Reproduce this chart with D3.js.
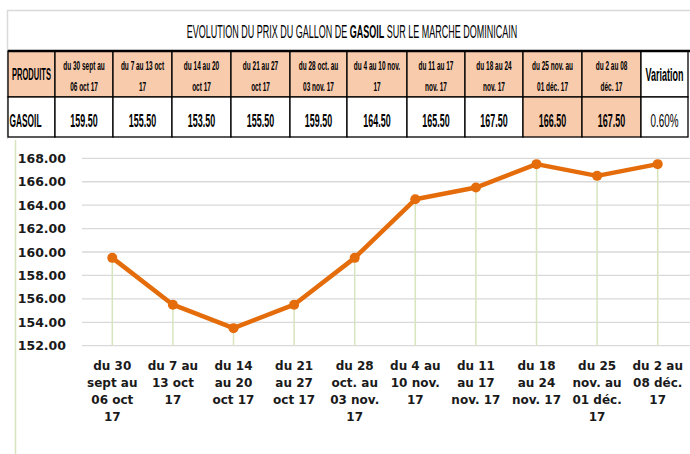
<!DOCTYPE html>
<html>
<head>
<meta charset="utf-8">
<script src="https://cdn.jsdelivr.net/npm/d3@7"></script>
<style>
	body { margin: 0; background: #fff; }
	svg { display: block; }
	.narrow { font-family: "Liberation Sans Narrow", "Arial Narrow", "Liberation Sans", sans-serif; }
	.chart-text { font-family: "DejaVu Sans", Verdana, sans-serif; font-weight: bold; }
</style>
</head>
<body>
<div id="chart"></div>
<script>
// table headers (two lines each) and the matching chart labels
const headerLabels = [
	["du 30 sept au", "06 oct 17"],
	["du 7 au 13 oct", "17"],
	["du 14 au 20", "oct 17"],
	["du 21 au 27", "oct 17"],
	["du 28 oct. au", "03 nov. 17"],
	["du 4 au 10 nov.", "17"],
	["du 11 au 17", "nov. 17"],
	["du 18 au 24", "nov. 17"],
	["du 25 nov. au", "01 déc. 17"],
	["du 2 au 08", "déc. 17"]
];
const axisLabels = [
	["du 30", "sept au", "06 oct", "17"],
	["du 7 au", "13 oct", "17"],
	["du 14", "au 20", "oct 17"],
	["du 21", "au 27", "oct 17"],
	["du 28", "oct. au", "03 nov.", "17"],
	["du 4 au", "10 nov.", "17"],
	["du 11", "au 17", "nov. 17"],
	["du 18", "au 24", "nov. 17"],
	["du 25", "nov. au", "01 déc.", "17"],
	["du 2 au", "08 déc.", "17"]
];
const prices = [159.50, 155.50, 153.50, 155.50, 159.50, 164.50, 165.50, 167.50, 166.50, 167.50];
const highlighted = [false, false, false, false, false, false, false, false, true, true];
const productName = "GASOIL";
const variation = "0.60%";
const yTicks = [152, 154, 156, 158, 160, 162, 164, 166, 168];

const width = 690, height = 454;
const peach = "#f8cbad", orange = "#e46c0a", paleGreen = "#d7e4bd";

const svg = d3.select("#chart").append("svg")
	.attr("width", width)
	.attr("height", height);

// outer frame of the table block
svg.append("path")
	.attr("d", "M7.5,139 V10.5 H690")
	.attr("fill", "none")
	.attr("stroke", "#d9d9d9")
	.attr("stroke-width", 1.5);

// title
const title = svg.append("text")
	.attr("class", "narrow")
	.attr("transform", "translate(352,38) scale(0.5,1)")
	.attr("text-anchor", "middle")
	.style("font-size", "18px")
	.attr("fill", "#000");
title.append("tspan").text("EVOLUTION DU PRIX DU GALLON DE ");
title.append("tspan").attr("font-weight", "bold").text("GASOIL");
title.append("tspan").text(" SUR LE MARCHE DOMINICAIN");

// table
const colEdges = [8, 55, 113, 172, 231, 290, 347, 407, 465, 523, 582, 641, 688];
const rowTop = 51, rowMid = 97, rowBot = 137;
const tbl = svg.append("g");

const cells = [];
colEdges.slice(0, -1).forEach((x0, i) => {
	const x1 = colEdges[i + 1];
	const isFirst = i === 0, isLast = i === colEdges.length - 2;
	const k = i - 1;
	cells.push({ x0, x1, y0: rowTop, y1: rowMid, fill: isLast ? "#fff" : peach,
		kind: isFirst ? "prod" : isLast ? "var" : "head", k });
	cells.push({ x0, x1, y0: rowMid, y1: rowBot,
		fill: (!isFirst && !isLast && highlighted[k]) ? peach : "#fff",
		kind: isFirst ? "name" : isLast ? "varval" : "val", k });
});

tbl.selectAll("rect")
	.data(cells)
	.join("rect")
	.attr("x", d => d.x0)
	.attr("y", d => d.y0)
	.attr("width", d => d.x1 - d.x0)
	.attr("height", d => d.y1 - d.y0)
	.attr("fill", d => d.fill)
	.attr("stroke", "#000")
	.attr("stroke-width", 1.3);

tbl.append("line")
	.attr("x1", 8).attr("x2", 690).attr("y1", rowTop).attr("y2", rowTop)
	.attr("stroke", "#000").attr("stroke-width", 2.5);

const cellText = (d, lines, size, weight, y0, gap, sx, anchor) => {
	const cx = anchor === "start" ? d.x0 + 1.5 : (d.x0 + d.x1) / 2;
	const t = tbl.append("text")
		.attr("class", "narrow")
		.attr("transform", `translate(${cx},${y0}) scale(${sx},1)`)
		.attr("text-anchor", anchor || "middle")
		.attr("font-weight", weight)
		.style("font-size", size + "px")
		.attr("fill", "#000");
	lines.forEach((s, j) => t.append("tspan").attr("x", 0).attr("y", j * gap).text(s));
};

cells.forEach(d => {
	if (d.kind === "head") cellText(d, headerLabels[d.k], 13.5, "bold", 70, 21.5, 0.48);
	if (d.kind === "prod") cellText(d, ["PRODUITS"], 16, "bold", 80, 0, 0.47);
	if (d.kind === "var") cellText(d, ["Variation"], 18, "bold", 81, 0, 0.5);
	if (d.kind === "val") cellText(d, [d3.format(".2f")(prices[d.k])], 19, "bold", 127, 0, 0.47);
	if (d.kind === "name") cellText(d, [productName], 19, "bold", 127, 0, 0.44, "start");
	if (d.kind === "varval") cellText(d, [variation], 19, "normal", 127, 0, 0.52);
});

// line chart
const x = d3.scalePoint()
	.domain(d3.range(prices.length))
	.range([82, 688])
	.padding(0.5);
const y = d3.scaleLinear()
	.domain([152, 168])
	.range([345.7, 158.3]);

svg.append("line")
	.attr("x1", 15.5).attr("x2", 15.5).attr("y1", 140).attr("y2", height)
	.attr("stroke", paleGreen).attr("stroke-width", 1.5);

svg.append("g")
	.selectAll("line")
	.data(yTicks)
	.join("line")
	.attr("x1", 82).attr("x2", 690)
	.attr("y1", d => y(d)).attr("y2", d => y(d))
	.attr("stroke", "#d9d9d9")
	.attr("stroke-width", 1.3);

svg.append("g")
	.attr("class", "chart-text")
	.selectAll("text")
	.data(yTicks)
	.join("text")
	.attr("x", 66)
	.attr("y", d => y(d) + 4.5)
	.attr("text-anchor", "end")
	.style("font-size", "12.5px")
	.attr("fill", "#1a1a1a")
	.text(d => d3.format(".2f")(d));

svg.append("g")
	.selectAll("line")
	.data(prices)
	.join("line")
	.attr("x1", (d, i) => x(i)).attr("x2", (d, i) => x(i))
	.attr("y1", d => y(d)).attr("y2", y(152))
	.attr("stroke", paleGreen)
	.attr("stroke-width", 1.5);

svg.append("path")
	.datum(prices)
	.attr("fill", "none")
	.attr("stroke", orange)
	.attr("stroke-width", 4.5)
	.attr("stroke-linejoin", "round")
	.attr("d", d3.line().x((d, i) => x(i)).y(d => y(d)));

svg.append("g")
	.selectAll("circle")
	.data(prices)
	.join("circle")
	.attr("cx", (d, i) => x(i))
	.attr("cy", d => y(d))
	.attr("r", 5)
	.attr("fill", orange);

const xl = svg.append("g")
	.attr("class", "chart-text")
	.selectAll("text")
	.data(axisLabels)
	.join("text")
	.attr("text-anchor", "middle")
	.style("font-size", "12px")
	.attr("fill", "#1a1a1a");
xl.each(function(lines, i) {
	d3.select(this).selectAll("tspan")
		.data(lines)
		.join("tspan")
		.attr("x", x(i))
		.attr("y", (s, j) => 370 + j * 17)
		.text(s => s);
});
</script>
</body>
</html>
